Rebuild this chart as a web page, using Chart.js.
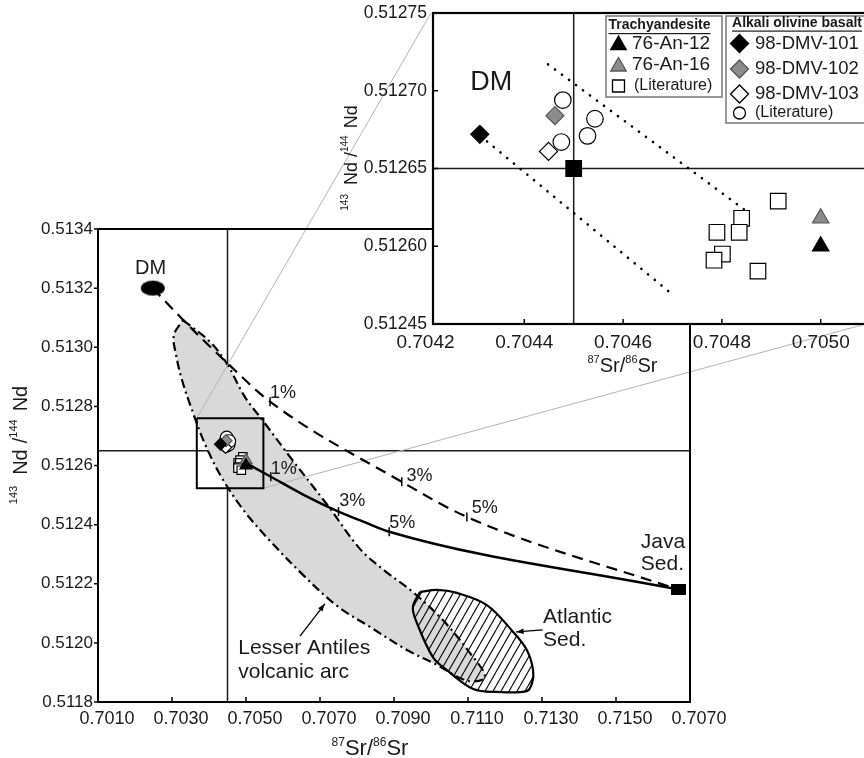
<!DOCTYPE html>
<html>
<head>
<meta charset="utf-8">
<script src="https://cdn.jsdelivr.net/npm/chart.js@4.4.1/dist/chart.umd.min.js"></script>
<style>
  html, body { margin: 0; padding: 0; background: #fff; overflow: hidden; }
  #wrap { position: relative; width: 864px; height: 758px; overflow: hidden; }
  #main { position: absolute; left: 0; top: 0; }
  #inset { position: absolute; left: 330px; top: 0; }
</style>
</head>
<body>
<div id="wrap">
  <canvas id="main" width="864" height="758"></canvas>
  <canvas id="inset" width="540" height="380"></canvas>
</div>
<script>
var FONT = '"Liberation Sans", Arial, Helvetica, sans-serif';
var INK = '#1a1a1a';

// axes of the main plot
var srTicks = [0.7010, 0.7030, 0.7050, 0.7070, 0.7090, 0.7110, 0.7130, 0.7150, 0.7170];
var srTickLabels = ['0.7010', '0.7030', '0.7050', '0.7070', '0.7090', '0.7110', '0.7130', '0.7150', '0.7070'];
var ndTicks = [0.5118, 0.5120, 0.5122, 0.5124, 0.5126, 0.5128, 0.5130, 0.5132, 0.5134];
var ndTickLabels = ['0.5118', '0.5120', '0.5122', '0.5124', '0.5126', '0.5128', '0.5130', '0.5132', '0.5134'];
var refSr = 0.7045;
var refNd = 0.51265;

// axes of the inset
var insetSrTicks = [0.7042, 0.7044, 0.7046, 0.7048, 0.7050];
var insetSrLabels = ['0.7042', '0.7044', '0.7046', '0.7048', '0.7050'];
var insetNdTicks = [0.51255, 0.51260, 0.51265, 0.51270, 0.51275];
var insetNdLabels = ['0.51245', '0.51260', '0.51265', '0.51270', '0.51275'];

// samples
var an12Sr = [0.70500], an12Nd = [0.51260];
var an16Sr = [0.70500], an16Nd = [0.512618];
var trachyLitSr = [0.704914, 0.704840, 0.704790, 0.704835, 0.704801, 0.704784, 0.704873];
var trachyLitNd = [0.512629, 0.512618, 0.512609, 0.512609, 0.512595, 0.512591, 0.512584];
var dmv101Sr = [0.70431], dmv101Nd = [0.512672];
var dmv102Sr = [0.704462], dmv102Nd = [0.512684];
var dmv103Sr = [0.704449], dmv103Nd = [0.512661];
var basaltLitSr = [0.704478, 0.704475, 0.704528, 0.704543];
var basaltLitNd = [0.512694, 0.512667, 0.512671, 0.512682];
var meanSr = [0.7045], meanNd = [0.51265];

// end members
var dmSr = [0.70248], dmNd = [0.5132];
var javaSr = [0.71668], javaNd = [0.51218];

// mixing curves (dashed and solid) with 1/3/5 % marks
var dashMixSr = [0.70248, 0.70335, 0.70449, 0.70565, 0.70921, 0.71097, 0.71668];
var dashMixNd = [0.51320, 0.513086, 0.512947, 0.512816, 0.512545, 0.512426, 0.51218];
var dashMarkSr = [0.70565, 0.70921, 0.71097];
var dashMarkNd = [0.512816, 0.512545, 0.512426];
var solidMixSr = [0.70502, 0.70567, 0.70657, 0.70750, 0.70817, 0.70887, 0.71668];
var solidMixNd = [0.512607, 0.512562, 0.51250, 0.512444, 0.51241, 0.512376, 0.51218];
var solidMarkSr = [0.70567, 0.70750, 0.70887];
var solidMarkNd = [0.512562, 0.512444, 0.512376];

// Lesser Antilles field
var arcSr = [0.70330, 0.70403, 0.70449, 0.70497, 0.70546, 0.70619, 0.70722, 0.70808, 0.70876, 0.70951,
             0.71032, 0.71105, 0.71146, 0.71100, 0.71011, 0.70935, 0.70835, 0.70746, 0.70654, 0.70565,
             0.70497, 0.70435, 0.70389, 0.70354, 0.70327, 0.70311, 0.70305, 0.70330];
var arcNd = [0.513092, 0.513018, 0.512943, 0.512832, 0.512751, 0.512629, 0.512463, 0.512318, 0.512243, 0.512172,
             0.512077, 0.511966, 0.511885, 0.511871, 0.511929, 0.511976, 0.512054, 0.512125, 0.51223, 0.512345,
             0.512443, 0.512558, 0.512673, 0.512788, 0.512889, 0.512974, 0.513041, 0.513092];

// Atlantic sediment field
var atlSr = [0.70970, 0.71016, 0.71070, 0.71151, 0.71222, 0.71259, 0.71276, 0.71273, 0.71259, 0.71178,
             0.71114, 0.71043, 0.71005, 0.70962, 0.70951, 0.70970];
var atlNd = [0.512172, 0.512179, 0.512169, 0.512128, 0.512037, 0.511976, 0.511908, 0.511864, 0.511837, 0.511834,
             0.511844, 0.511908, 0.511952, 0.512067, 0.512121, 0.512172];

// zoom box and the two guide lines to the inset corners
var boxSr = [0.70367, 0.70547, 0.70547, 0.70367, 0.70367];
var boxNd = [0.51276, 0.51276, 0.512523, 0.512523, 0.51276];
var guideTopSr = [0.70367, 0.71000], guideTopNd = [0.51276, 0.514131];
var guideLowSr = [0.70547, 0.72170], guideLowNd = [0.512523, 0.513077];

// dotted trend lines in the inset
var trendUpSr = [0.704448, 0.704852], trendUpNd = [0.512717, 0.512622];
var trendLowSr = [0.704311, 0.704696], trendLowNd = [0.512671, 0.51257];

// text notes (data coordinates)
var mainNotes = [
  {t: 'DM', x: 0.70242, y: 0.513265, size: 20, align: 'center'},
  {t: '1%', x: 0.70565, y: 0.512845, size: 18},
  {t: '3%', x: 0.70934, y: 0.512566, size: 18},
  {t: '5%', x: 0.71110, y: 0.512455, size: 18},
  {t: '1%', x: 0.70567, y: 0.512588, size: 18},
  {t: '3%', x: 0.70752, y: 0.51248, size: 18},
  {t: '5%', x: 0.70887, y: 0.512407, size: 18},
  {t: 'Java', x: 0.71567, y: 0.512342, size: 21},
  {t: 'Sed.', x: 0.71567, y: 0.512267, size: 21},
  {t: 'Atlantic', x: 0.71303, y: 0.512086, size: 21},
  {t: 'Sed.', x: 0.71303, y: 0.51201, size: 21},
  {t: 'Lesser Antiles', x: 0.70479, y: 0.511983, size: 21},
  {t: 'volcanic arc', x: 0.70479, y: 0.511902, size: 21}
];
var mainArrows = [
  {x1: 0.71302, y1: 0.512044, x2: 0.71230, y2: 0.512037},
  {x1: 0.70646, y1: 0.512023, x2: 0.70713, y2: 0.512132}
];
var insetNotes = [{t: 'DM', x: 0.704333, y: 0.512705, size: 27, align: 'center'}];

var trachyLegend = ['76-An-12', '76-An-16', '(Literature)'];
var basaltLegend = ['98-DMV-101', '98-DMV-102', '98-DMV-103', '(Literature)'];

function pts(xs, ys) {
  return xs.map(function (v, i) { return {x: v, y: ys[i]}; });
}

function fixedTicks(values) {
  return function (scale) {
    scale.ticks = values.map(function (v) { return {value: v}; });
  };
}

function fitTo(prop, size) {
  return function (s) {
    s[prop] = size;
    s.paddingLeft = 0; s.paddingRight = 0; s.paddingTop = 0; s.paddingBottom = 0;
  };
}

function makeImg(w, h, draw) {
  var c = document.createElement('canvas');
  c.width = w; c.height = h;
  draw(c.getContext('2d'), w, h);
  return c;
}

var dmImg = makeImg(26, 17, function (g, w, h) {
  g.fillStyle = '#000';
  g.beginPath();
  g.ellipse(w / 2, h / 2, 12, 7.5, 0, 0, Math.PI * 2);
  g.fill();
});
var javaImg = makeImg(15, 11, function (g, w, h) {
  g.fillStyle = '#000';
  g.fillRect(0, 0, w, h);
});
var tile = makeImg(8, 14, function (g, w, h) {
  g.strokeStyle = '#111';
  g.lineWidth = 1.2;
  g.beginPath();
  for (var k = -1; k <= 1; k++) { g.moveTo(k * w, h); g.lineTo(k * w + w, 0); }
  g.stroke();
});
var hatch = tile.getContext('2d').createPattern(tile, 'repeat');

// text with superscripts; parts: [text, size, raise, gapAfter]
function rich(ctx, parts, cx, cy, rot) {
  var w = 0;
  parts.forEach(function (p) {
    ctx.font = p[1] + 'px ' + FONT;
    w += ctx.measureText(p[0]).width + (p[3] || 0);
  });
  ctx.save();
  ctx.translate(cx, cy);
  ctx.rotate(rot || 0);
  ctx.fillStyle = INK;
  ctx.textAlign = 'left';
  ctx.textBaseline = 'alphabetic';
  var x = -w / 2;
  parts.forEach(function (p) {
    ctx.font = p[1] + 'px ' + FONT;
    ctx.fillText(p[0], x, -(p[2] || 0));
    x += ctx.measureText(p[0]).width + (p[3] || 0);
  });
  ctx.restore();
}

function notes(chart, list) {
  var ctx = chart.ctx, sx = chart.scales.x, sy = chart.scales.y;
  ctx.save();
  ctx.fillStyle = INK;
  ctx.textBaseline = 'middle';
  list.forEach(function (n) {
    ctx.font = n.size + 'px ' + FONT;
    ctx.textAlign = n.align || 'left';
    ctx.fillText(n.t, sx.getPixelForValue(n.x), sy.getPixelForValue(n.y));
  });
  ctx.restore();
}

function marker(ctx, style, x, y, r, fill) {
  ctx.beginPath();
  if (style === 'triangle') {
    ctx.moveTo(x, y - r);
    ctx.lineTo(x + r * 0.866, y + r / 2);
    ctx.lineTo(x - r * 0.866, y + r / 2);
    ctx.closePath();
  } else if (style === 'rect') {
    ctx.rect(x - r, y - r, 2 * r, 2 * r);
  } else if (style === 'rectRot') {
    ctx.moveTo(x - r, y); ctx.lineTo(x, y - r); ctx.lineTo(x + r, y); ctx.lineTo(x, y + r);
    ctx.closePath();
  } else {
    ctx.arc(x, y, r, 0, Math.PI * 2);
  }
  ctx.fillStyle = fill;
  ctx.fill();
  ctx.lineWidth = 1.3;
  ctx.strokeStyle = fill === '#8c8c8c' ? '#555' : '#000';
  ctx.stroke();
}

var mainDecor = {
  id: 'mainDecor',
  beforeDatasetsDraw: function (chart) {
    var ctx = chart.ctx, a = chart.chartArea;
    var px = chart.scales.x.getPixelForValue(refSr);
    var py = chart.scales.y.getPixelForValue(refNd);
    ctx.save();
    ctx.strokeStyle = INK;
    ctx.lineWidth = 1.5;
    ctx.beginPath();
    ctx.moveTo(px, a.top); ctx.lineTo(px, a.bottom);
    ctx.moveTo(a.left, py); ctx.lineTo(a.right, py);
    ctx.stroke();
    ctx.restore();
  },
  afterDatasetsDraw: function (chart) {
    var ctx = chart.ctx, a = chart.chartArea, sx = chart.scales.x, sy = chart.scales.y;
    ctx.save();
    ctx.strokeStyle = '#000';
    ctx.lineWidth = 2;
    ctx.strokeRect(a.left, a.top, a.right - a.left, a.bottom - a.top);
    ctx.lineWidth = 1.5;
    ctx.beginPath();
    srTicks.forEach(function (v) {
      var p = sx.getPixelForValue(v);
      if (p > a.left + 2 && p < a.right - 2) { ctx.moveTo(p, a.bottom); ctx.lineTo(p, a.bottom - 5); }
    });
    ndTicks.forEach(function (v) {
      var p = sy.getPixelForValue(v);
      ctx.moveTo(a.left, p); ctx.lineTo(a.left - 4, p);
    });
    ctx.stroke();

    // arrows
    ctx.lineWidth = 1.3;
    ctx.fillStyle = '#000';
    mainArrows.forEach(function (ar) {
      var x1 = sx.getPixelForValue(ar.x1), y1 = sy.getPixelForValue(ar.y1);
      var x2 = sx.getPixelForValue(ar.x2), y2 = sy.getPixelForValue(ar.y2);
      var ang = Math.atan2(y2 - y1, x2 - x1);
      ctx.beginPath(); ctx.moveTo(x1, y1); ctx.lineTo(x2, y2); ctx.stroke();
      ctx.beginPath();
      ctx.moveTo(x2, y2);
      ctx.lineTo(x2 - 8 * Math.cos(ang - 0.35), y2 - 8 * Math.sin(ang - 0.35));
      ctx.lineTo(x2 - 8 * Math.cos(ang + 0.35), y2 - 8 * Math.sin(ang + 0.35));
      ctx.closePath();
      ctx.fill();
    });
    ctx.restore();
    notes(chart, mainNotes);
  },
  afterDraw: function (chart) {
    var ctx = chart.ctx;
    rich(ctx, [['87', 12, 9.5, 0], ['Sr/', 22, 0, 0], ['86', 12, 9.5, 0], ['Sr', 22, 0, 0]], 370, 755, 0);
    rich(ctx, [['143', 11, 10, 11], ['Nd', 20, 0, 6], ['/', 20, 0, 0], ['144', 11, 10, 8], ['Nd', 20, 0, 0]],
      27, 445, -Math.PI / 2);
  }
};

var insetDecor = {
  id: 'insetDecor',
  beforeDraw: function (chart) {
    var ctx = chart.ctx, a = chart.chartArea;
    ctx.save();
    ctx.fillStyle = '#fff';
    ctx.fillRect(a.left, a.top, a.right - a.left, a.bottom - a.top);
    ctx.restore();
  },
  beforeDatasetsDraw: function (chart) {
    var ctx = chart.ctx, a = chart.chartArea;
    var px = chart.scales.x.getPixelForValue(refSr);
    var py = chart.scales.y.getPixelForValue(refNd);
    ctx.save();
    ctx.strokeStyle = INK;
    ctx.lineWidth = 1.5;
    ctx.beginPath();
    ctx.moveTo(px, a.top); ctx.lineTo(px, a.bottom);
    ctx.moveTo(a.left, py); ctx.lineTo(a.right, py);
    ctx.stroke();
    ctx.restore();
  },
  afterDatasetsDraw: function (chart) {
    var ctx = chart.ctx, a = chart.chartArea, sx = chart.scales.x, sy = chart.scales.y;
    ctx.save();
    ctx.strokeStyle = '#000';
    ctx.lineWidth = 2.2;
    ctx.strokeRect(a.left, a.top, a.right - a.left, a.bottom - a.top);
    ctx.lineWidth = 1.5;
    ctx.beginPath();
    insetSrTicks.forEach(function (v) {
      var p = sx.getPixelForValue(v);
      if (p > a.left + 2) { ctx.moveTo(p, a.bottom); ctx.lineTo(p, a.bottom - 5); }
    });
    insetNdTicks.forEach(function (v) {
      var p = sy.getPixelForValue(v);
      if (p > a.top + 2 && p < a.bottom - 2) { ctx.moveTo(a.left, p); ctx.lineTo(a.left + 5, p); }
    });
    ctx.stroke();
    ctx.restore();
    notes(chart, insetNotes);

    // legend boxes
    ctx.save();
    ctx.fillStyle = '#fff';
    ctx.strokeStyle = '#777';
    ctx.lineWidth = 1.5;
    ctx.fillRect(276, 16, 116, 81); ctx.strokeRect(276, 16, 116, 81);
    ctx.fillRect(396, 16, 160, 107); ctx.strokeRect(396, 16, 160, 107);

    ctx.fillStyle = INK;
    ctx.textBaseline = 'middle';
    ctx.textAlign = 'center';
    ctx.font = 'bold 14px ' + FONT;
    [['Trachyandesite', 329.5, 25.5], ['Alkali olivine basalt', 467, 23]].forEach(function (h) {
      ctx.fillText(h[0], h[1], h[2]);
      var w = ctx.measureText(h[0]).width;
      ctx.fillRect(h[1] - w / 2, h[2] + 7.5, w, 1.2);
    });

    var trachyStyle = [['triangle', 9, '#000'], ['triangle', 9, '#8c8c8c'], ['rect', 6, '#fff']];
    var trachyY = [43.5, 65, 86];
    trachyLegend.forEach(function (t, i) {
      marker(ctx, trachyStyle[i][0], 288.5, trachyY[i] + (i < 2 ? 1.5 : 0), trachyStyle[i][1], trachyStyle[i][2]);
      ctx.fillStyle = INK;
      ctx.textAlign = 'left';
      ctx.font = (i < 2 ? 19 : 16) + 'px ' + FONT;
      ctx.fillText(t, i < 2 ? 302 : 304, trachyY[i]);
    });
    var basaltStyle = [['rectRot', 9, '#000'], ['rectRot', 9, '#8c8c8c'], ['rectRot', 9, '#fff'], ['circle', 6, '#fff']];
    var basaltY = [43.5, 69, 94, 113];
    basaltLegend.forEach(function (t, i) {
      marker(ctx, basaltStyle[i][0], 409.5, basaltY[i], basaltStyle[i][1], basaltStyle[i][2]);
      ctx.fillStyle = INK;
      ctx.textAlign = 'left';
      ctx.font = (i < 3 ? 18.5 : 16) + 'px ' + FONT;
      ctx.fillText(t, 425, basaltY[i]);
    });
    ctx.restore();
  },
  afterDraw: function (chart) {
    var ctx = chart.ctx;
    rich(ctx, [['87', 11, 9, 0], ['Sr/', 20, 0, 0], ['86', 11, 9, 0], ['Sr', 20, 0, 0]], 292.5, 372, 0);
    rich(ctx, [['143', 10, 9, 9], ['Nd', 18, 0, 5], ['/', 18, 0, 0], ['144', 10, 9, 7], ['Nd', 18, 0, 0]],
      27, 158, -Math.PI / 2);
  }
};

function lineSet(xs, ys, extra) {
  var d = {data: pts(xs, ys), showLine: true, pointRadius: 0, borderColor: '#000', borderWidth: 2, fill: false};
  for (var k in extra) d[k] = extra[k];
  return d;
}

function markSet(xs, ys, style, r, fill) {
  return {
    data: pts(xs, ys), pointStyle: style, pointRadius: r,
    backgroundColor: fill, borderColor: fill === '#8c8c8c' ? '#555' : '#000', borderWidth: 1.2
  };
}

var commonOpts = {
  responsive: false,
  animation: false,
  devicePixelRatio: 1,
  events: [],
  plugins: {legend: {display: false}, tooltip: {enabled: false}}
};

document.addEventListener('DOMContentLoaded', function () {
  Chart.defaults.font.family = FONT;
  Chart.defaults.color = INK;

  var mainCtx = document.getElementById('main');
  new Chart(mainCtx, {
    type: 'scatter',
    data: {
      datasets: [
        markSet(an12Sr, an12Nd, 'triangle', 7, '#000'),
        markSet(an16Sr, an16Nd, 'triangle', 7, '#8c8c8c'),
        markSet(trachyLitSr, trachyLitNd, 'rect', 6, '#fff'),
        markSet(dmv101Sr, dmv101Nd, 'rectRot', 6, '#000'),
        markSet(dmv102Sr, dmv102Nd, 'rectRot', 6, '#8c8c8c'),
        markSet(dmv103Sr, dmv103Nd, 'rectRot', 6, '#fff'),
        markSet(basaltLitSr, basaltLitNd, 'circle', 6.5, '#fff'),
        {data: pts(dmSr, dmNd), pointStyle: dmImg},
        {data: pts(javaSr, javaNd), pointStyle: javaImg},
        {data: pts(solidMarkSr.concat(dashMarkSr), solidMarkNd.concat(dashMarkNd)),
         pointStyle: 'line', pointRotation: 90, pointRadius: 4.5, borderColor: '#000', borderWidth: 1.5},
        lineSet(boxSr, boxNd, {borderWidth: 2}),
        lineSet(solidMixSr, solidMixNd, {borderWidth: 2.5, cubicInterpolationMode: 'monotone'}),
        lineSet(dashMixSr, dashMixNd, {borderWidth: 2.2, borderDash: [11, 7], cubicInterpolationMode: 'monotone'}),
        lineSet(guideTopSr, guideTopNd, {borderWidth: 1, borderColor: '#b4b4b4', clip: false}),
        lineSet(guideLowSr, guideLowNd, {borderWidth: 1, borderColor: '#b4b4b4', clip: false}),
        lineSet(atlSr, atlNd, {borderWidth: 2.2, tension: 0.35, fill: 'shape', backgroundColor: hatch}),
        lineSet(arcSr, arcNd, {borderWidth: 2.2, tension: 0.35, borderDash: [9, 4, 2, 4], fill: 'shape',
                               backgroundColor: '#d9d9d9'})
      ]
    },
    options: Object.assign({}, commonOpts, {
      layout: {autoPadding: false, padding: {top: 229, right: 174, left: 0, bottom: 0}},
      scales: {
        x: {
          type: 'linear', min: 0.7010, max: 0.7170,
          afterBuildTicks: fixedTicks(srTicks),
          afterFit: fitTo('height', 56),
          grid: {display: false, drawTicks: false}, border: {display: false},
          ticks: {autoSkip: false, maxRotation: 0, minRotation: 0, padding: 6, labelOffset: 9,
                  font: {size: 18}, color: INK,
                  callback: function (v, i) { return srTickLabels[i]; }}
        },
        y: {
          type: 'linear', min: 0.5118, max: 0.5134,
          afterBuildTicks: fixedTicks(ndTicks),
          afterFit: fitTo('width', 98),
          grid: {display: false, drawTicks: false}, border: {display: false},
          ticks: {autoSkip: false, padding: 5, font: {size: 17}, color: INK,
                  callback: function (v, i) { return ndTickLabels[i]; }}
        }
      }
    }),
    plugins: [mainDecor]
  });

  var insetCtx = document.getElementById('inset');
  new Chart(insetCtx, {
    type: 'scatter',
    data: {
      datasets: [
        markSet(an12Sr, an12Nd, 'triangle', 9.5, '#000'),
        markSet(an16Sr, an16Nd, 'triangle', 9.5, '#8c8c8c'),
        markSet(meanSr, meanNd, 'rect', 11, '#000'),
        markSet(trachyLitSr, trachyLitNd, 'rect', 11, '#fff'),
        markSet(dmv101Sr, dmv101Nd, 'rectRot', 9, '#000'),
        markSet(dmv102Sr, dmv102Nd, 'rectRot', 9, '#8c8c8c'),
        markSet(dmv103Sr, dmv103Nd, 'rectRot', 9, '#fff'),
        markSet(basaltLitSr, basaltLitNd, 'circle', 8.3, '#fff'),
        lineSet(trendUpSr, trendUpNd, {borderWidth: 2.6, borderDash: [0.1, 8.6], borderCapStyle: 'round'}),
        lineSet(trendLowSr, trendLowNd, {borderWidth: 2.6, borderDash: [0.1, 8.6], borderCapStyle: 'round'})
      ]
    },
    options: Object.assign({}, commonOpts, {
      layout: {autoPadding: false, padding: {top: 13, right: 0, left: 0, bottom: 0}},
      scales: {
        x: {
          type: 'linear', min: 0.7042152, max: 0.7050998,
          afterBuildTicks: fixedTicks(insetSrTicks),
          afterFit: fitTo('height', 56),
          grid: {display: false, drawTicks: false}, border: {display: false},
          ticks: {autoSkip: false, maxRotation: 0, minRotation: 0, padding: 7, font: {size: 19}, color: INK,
                  callback: function (v, i) { return insetSrLabels[i]; }}
        },
        y: {
          type: 'linear', min: 0.51255, max: 0.51275,
          afterBuildTicks: fixedTicks(insetNdTicks),
          afterFit: fitTo('width', 103),
          grid: {display: false, drawTicks: false}, border: {display: false},
          ticks: {autoSkip: false, padding: 6, font: {size: 17.5}, color: INK,
                  callback: function (v, i) { return insetNdLabels[i]; }}
        }
      }
    }),
    plugins: [insetDecor]
  });
});
</script>
</body>
</html>
